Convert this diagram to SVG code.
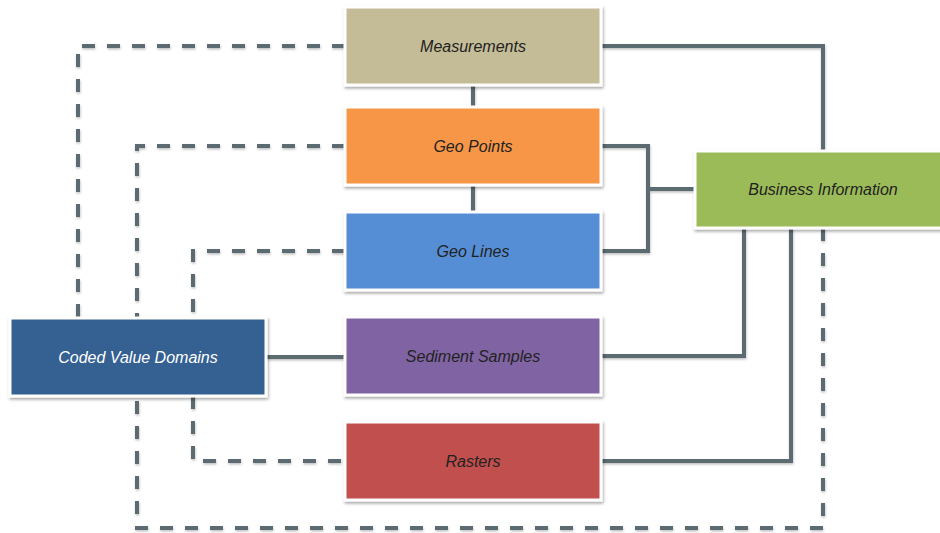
<svg xmlns="http://www.w3.org/2000/svg" width="940" height="533" viewBox="0 0 940 533">
  <defs>
    <filter id="shadow" x="-10%" y="-10%" width="130%" height="140%">
      <feDropShadow dx="1" dy="2" stdDeviation="1.5" flood-color="#000" flood-opacity="0.35"/>
    </filter>
    <filter id="lineShadow" x="-5%" y="-5%" width="110%" height="110%">
      <feDropShadow dx="0.5" dy="1.5" stdDeviation="1" flood-color="#000" flood-opacity="0.25"/>
    </filter>
  </defs>
  <style>
    .box { stroke: #ffffff; stroke-width: 3; filter: url(#shadow); }
    .label { font-family: "Liberation Sans", Arial, sans-serif; font-style: italic; font-size: 16px; fill: #222222; text-anchor: middle; dominant-baseline: central; }
    .light { fill: #ffffff; }
    .solid { fill: none; stroke: #5b6a71; stroke-width: 4; }
    .dash { fill: none; stroke: #5b6a71; stroke-width: 4; stroke-dasharray: 13 12; }
  </style>
  <rect width="940" height="533" fill="#ffffff"/>

  <g id="connectors" filter="url(#lineShadow)">
    <!-- solid links -->
    <path class="solid" d="M602 46 H823 V151"/>
    <path class="solid" d="M602 146 H648 V251 H602"/>
    <path class="solid" d="M648 189 H695"/>
    <path class="solid" d="M744 228 V356 H602"/>
    <path class="solid" d="M791 228 V461 H602"/>
    <path class="solid" d="M473 85 V107"/>
    <path class="solid" d="M473 185 V212"/>
    <path class="solid" d="M266 357 H345"/>
    <!-- dashed links to Coded Value Domains -->
    <path class="dash" d="M345 46 H78 V318"/>
    <path class="dash" d="M345 146 H137 V318"/>
    <path class="dash" d="M345 251 H193 V318"/>
    <path class="dash" d="M193 396 V461 H345"/>
    <path class="dash" d="M823 228 V528 H137 V396"/>
  </g>

  <g id="measurements">
    <rect class="box" x="345" y="7" width="256" height="78" fill="#c4bc96"/>
    <text class="label" x="473" y="46">Measurements</text>
  </g>
  <g id="geo-points">
    <rect class="box" x="345" y="107" width="256" height="78" fill="#f79646"/>
    <text class="label" x="473" y="146">Geo Points</text>
  </g>
  <g id="geo-lines">
    <rect class="box" x="345" y="212" width="256" height="78" fill="#558ed5"/>
    <text class="label" x="473" y="251">Geo Lines</text>
  </g>
  <g id="sediment-samples">
    <rect class="box" x="345" y="317" width="256" height="78" fill="#8064a2"/>
    <text class="label" x="473" y="356">Sediment Samples</text>
  </g>
  <g id="rasters">
    <rect class="box" x="345" y="422" width="256" height="78" fill="#c0504d"/>
    <text class="label" x="473" y="461">Rasters</text>
  </g>
  <g id="coded-value-domains">
    <rect class="box" x="10" y="318" width="256" height="78" fill="#366092"/>
    <text class="label light" x="138" y="357">Coded Value Domains</text>
  </g>
  <g id="business-information">
    <rect class="box" x="695" y="151" width="256" height="77" fill="#9bbb59"/>
    <text class="label" x="823" y="189">Business Information</text>
  </g>
</svg>
